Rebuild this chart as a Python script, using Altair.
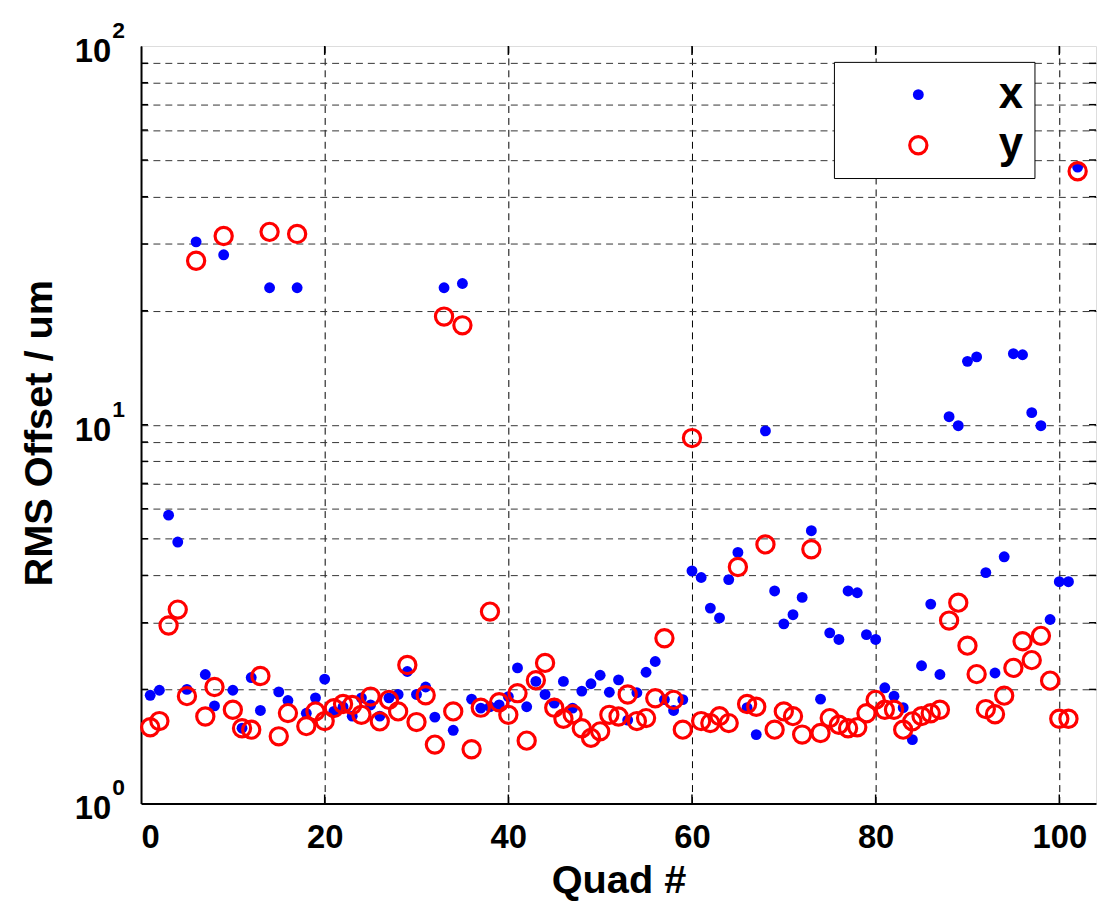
import altair as alt
import pandas as pd

quad = list(range(1, 103))

x_offset = [
    1.93, 1.99, 5.77, 4.90, 2.00, 30.4, 2.19, 1.81, 28.1, 1.99,
    1.58, 2.15, 1.76, 23.0, 1.97, 1.87, 23.0, 1.73, 1.90, 2.13,
    1.75, 1.80, 1.70, 1.90, 1.82, 1.70, 1.90, 1.94, 2.23, 1.94,
    2.03, 1.69, 23.0, 1.56, 23.6, 1.885, 1.785, 1.80, 1.82, 1.915,
    2.28, 1.80, 2.10, 1.94, 1.84, 2.10, 1.785, 1.98, 2.07, 2.18,
    1.966, 2.12, 1.66, 1.96, 2.22, 2.37, 1.88, 1.76, 1.88, 4.11,
    3.95, 3.28, 3.09, 3.90, 4.60, 1.79, 1.52, 9.63, 3.64, 2.98,
    3.15, 3.50, 5.25, 1.885, 2.82, 2.71, 3.64, 3.60, 2.79, 2.71,
    2.02, 1.92, 1.79, 1.474, 2.31, 3.36, 2.19, 10.5, 9.94, 14.7,
    15.1, 4.07, 2.21, 4.48, 15.4, 15.3, 10.76, 9.94, 3.06, 3.85,
    3.85, 47.9,
]

y_offset = [
    1.589, 1.65, 2.95, 3.25, 1.92, 27.1, 1.697, 2.03, 31.5, 1.767,
    1.58, 1.566, 2.17, 32.3, 1.504, 1.732, 31.9, 1.60, 1.75, 1.65,
    1.785, 1.83, 1.82, 1.714, 1.915, 1.647, 1.877, 1.75, 2.32, 1.64,
    1.93, 1.43, 19.3, 1.75, 18.3, 1.39, 1.79, 3.21, 1.85, 1.714,
    1.955, 1.465, 2.115, 2.35, 1.79, 1.673, 1.72, 1.58, 1.49, 1.55,
    1.714, 1.697, 1.94, 1.65, 1.68, 1.896, 2.73, 1.877, 1.566, 9.22,
    1.65, 1.63, 1.70, 1.63, 4.21, 1.83, 1.80, 4.83, 1.566, 1.75,
    1.70, 1.52, 4.69, 1.535, 1.68, 1.614, 1.58, 1.589, 1.73, 1.877,
    1.767, 1.767, 1.566, 1.647, 1.70, 1.73, 1.767, 3.04, 3.39, 2.61,
    2.195, 1.775, 1.72, 1.926, 2.28, 2.68, 2.39, 2.77, 2.11, 1.673,
    1.673, 46.7,
]

series_names = ["x", "y"]
x_ticks = [0, 20, 40, 60, 80, 100]
y_grid = [2, 3, 4, 5, 6, 7, 8, 9, 10, 20, 30, 40, 50, 60, 70, 80, 90]
y_decades = [1, 10, 100]
y_exponents = ["0", "1", "2"]

FONT = "Liberation Sans"
W, H = 962, 763

df = pd.DataFrame({
    "quad": quad + quad,
    "offset": x_offset + y_offset,
    "series": ["x"] * len(quad) + ["y"] * len(quad),
})
dec_df = pd.DataFrame({"quad": [0, 0, 0], "offset": y_decades, "base": ["10"] * 3, "exp": y_exponents})
ytick_df = pd.DataFrame({"quad": [0] * len(y_grid), "offset": y_grid})
xtick_df = pd.DataFrame({"quad": x_ticks[1:], "offset": [1] * (len(x_ticks) - 1)})

xscale = alt.Scale(domain=[0, 104], nice=False, zero=False)
yscale = alt.Scale(type="log", domain=[1, 100], nice=False)

x_axis = alt.Axis(
    values=x_ticks, grid=True, gridDash=[7, 5], gridColor="black", gridWidth=1,
    ticks=False, domain=True, domainColor="black", domainWidth=2,
    labelFont=FONT, labelFontSize=33, labelFontWeight="bold", labelColor="black",
    labelPadding=34, labelBaseline="middle",
    title="Quad #", titleFont=FONT, titleFontSize=40, titleFontWeight="bold",
    titleColor="black", titleY=90, titleBaseline="alphabetic")
y_axis = alt.Axis(
    values=y_grid, grid=True, gridDash=[7, 5], gridColor="#333", gridWidth=1,
    ticks=False, labels=False, domain=True, domainColor="black", domainWidth=2,
    title="RMS Offset / um", titleFont=FONT, titleFontSize=40, titleFontWeight="bold",
    titleColor="black", titleX=-102, titleY=H / 2 + 8, titleAngle=270,
    titleAlign="center", titleBaseline="middle")

X = alt.X("quad:Q", scale=xscale, axis=x_axis)
Y = alt.Y("offset:Q", scale=yscale, axis=y_axis)

points = alt.Chart(df).mark_point(filled=True, opacity=1).encode(
    x=X, y=Y,
    fill=alt.Fill("series:N", scale=alt.Scale(domain=series_names, range=["#0000ff", "transparent"]),
                  legend=alt.Legend(title=None, orient="none", legendX=698, legendY=16,
                                    fillColor="white", strokeColor="black", padding=11,
                                    labelFont=FONT, labelFontSize=44, labelFontWeight="bold",
                                    labelColor="black", labelOffset=59, symbolOffset=52,
                                    rowPadding=7)),
    stroke=alt.Stroke("series:N", scale=alt.Scale(domain=series_names, range=["#0000ff", "#ff0000"])),
    size=alt.Size("series:N", scale=alt.Scale(domain=series_names, range=[120, 300])),
    strokeWidth=alt.StrokeWidth("series:N", scale=alt.Scale(domain=series_names, range=[0, 3.2])),
)

base_text = alt.Chart(dec_df).mark_text(
    align="right", baseline="middle", dy=6, font=FONT, fontSize=33, fontWeight="bold", color="black"
).encode(x=alt.value(-30), y=Y, text="base:N")

exp_text = alt.Chart(dec_df).mark_text(
    align="left", baseline="middle", dy=-15, font=FONT, fontSize=23, fontWeight="bold", color="black"
).encode(x=alt.value(-29), y=Y, text="exp:N")

ytick_l = alt.Chart(ytick_df).mark_rule(color="black", strokeWidth=1.5).encode(
    y=Y, x=alt.value(0), x2=alt.value(7))
ytick_r = alt.Chart(ytick_df).mark_rule(color="black", strokeWidth=1.5).encode(
    y=Y, x=alt.value(W - 7), x2=alt.value(W))
xtick_b = alt.Chart(xtick_df).mark_rule(color="black", strokeWidth=1.5).encode(
    x=X, y=alt.value(H - 9), y2=alt.value(H))
xtick_t = alt.Chart(xtick_df).mark_rule(color="black", strokeWidth=1.5).encode(
    x=X, y=alt.value(0), y2=alt.value(9))

chart = alt.layer(ytick_l, ytick_r, xtick_b, xtick_t, points, base_text, exp_text).properties(
    width=W, height=H,
    padding={"left": 134, "top": 35, "right": 2, "bottom": 95},
    autosize=alt.AutoSizeParams(type="none"),
).configure_view(stroke="black", strokeWidth=2).configure(background="white")

chart.save("out.html", embed_options={"renderer": "svg", "actions": False})
